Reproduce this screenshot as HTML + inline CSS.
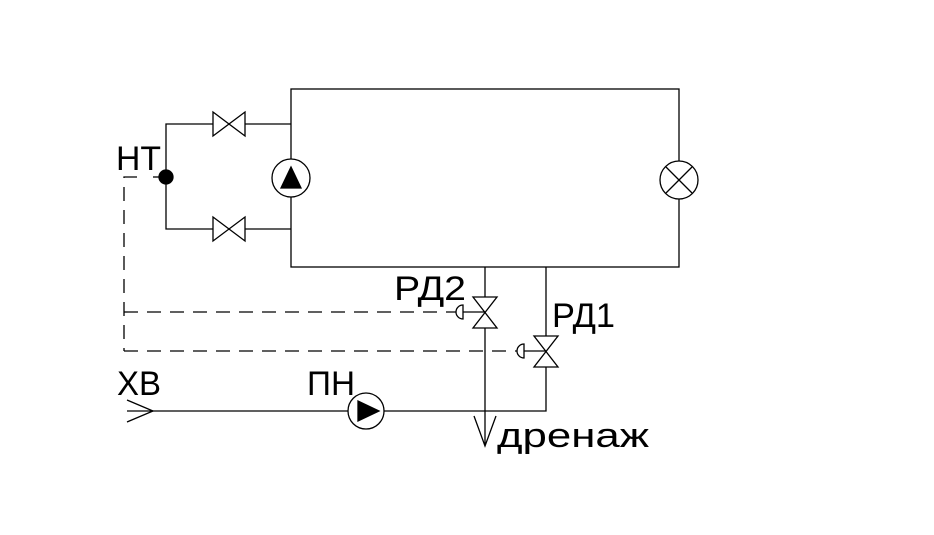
<!DOCTYPE html>
<html><head><meta charset="utf-8"><style>html,body{margin:0;padding:0;background:#fff}svg{display:block}</style></head><body>
<svg width="934" height="535" viewBox="0 0 934 535" xmlns="http://www.w3.org/2000/svg" font-family="Liberation Sans, DejaVu Sans, sans-serif" font-size="34" fill="none" stroke="#000" stroke-width="1.3">
<rect x="291" y="89" width="388" height="178" fill="#fff"/>
<polyline points="291,124 166,124 166,229 291,229"/>
<path d="M213,112 L245,136 L245,112 L213,136 Z" fill="#fff"/>
<path d="M213,217 L245,241 L245,217 L213,241 Z" fill="#fff"/>
<circle cx="166" cy="177" r="7" fill="#000"/>
<circle cx="291" cy="178" r="19" fill="#fff"/>
<path d="M281,188 L301,188 L291,167 Z" fill="#000"/>
<circle cx="679" cy="180" r="19" fill="#fff"/>
<path d="M666,167 L692,193 M692,167 L666,193"/>
<g stroke-dasharray="14,9">
<polyline points="137,177 124,177 124,351"/>
<line x1="124" y1="312" x2="458" y2="312"/>
<line x1="124" y1="351" x2="520" y2="351"/>
</g>
<line x1="153" y1="177" x2="160" y2="177"/>
<line x1="485" y1="267" x2="485" y2="445"/>
<path d="M473,297 L497,297 L473,328 L497,328 Z" fill="#fff"/>
<line x1="463" y1="312" x2="485" y2="312"/>
<path d="M463,305 A7,7 0 0,0 463,319 Z" fill="#fff"/>
<polyline points="546,267 546,411 127,411"/>
<path d="M534,336 L558,336 L534,367 L558,367 Z" fill="#fff"/>
<line x1="524" y1="351" x2="546" y2="351"/>
<path d="M524,344 A7,7 0 0,0 524,358 Z" fill="#fff"/>
<circle cx="366" cy="411" r="18" fill="#fff"/>
<path d="M358,401 L358,421 L379,411 Z" fill="#000"/>
<polyline points="127,400 153,411 127,422"/>
<polyline points="474,416 485,446 496,416"/>
<g fill="#000" stroke="none" font-weight="200">
<text x="116" y="170" textLength="45" lengthAdjust="spacingAndGlyphs">НТ</text>
<text x="394" y="300" textLength="72" lengthAdjust="spacingAndGlyphs">РД2</text>
<text x="552" y="327" textLength="63" lengthAdjust="spacingAndGlyphs">РД1</text>
<text x="117" y="395" textLength="44" lengthAdjust="spacingAndGlyphs">ХВ</text>
<text x="307" y="395" textLength="48" lengthAdjust="spacingAndGlyphs">ПН</text>
<text x="497" y="447" textLength="152" lengthAdjust="spacingAndGlyphs">дренаж</text>
</g>
</svg>
</body></html>
